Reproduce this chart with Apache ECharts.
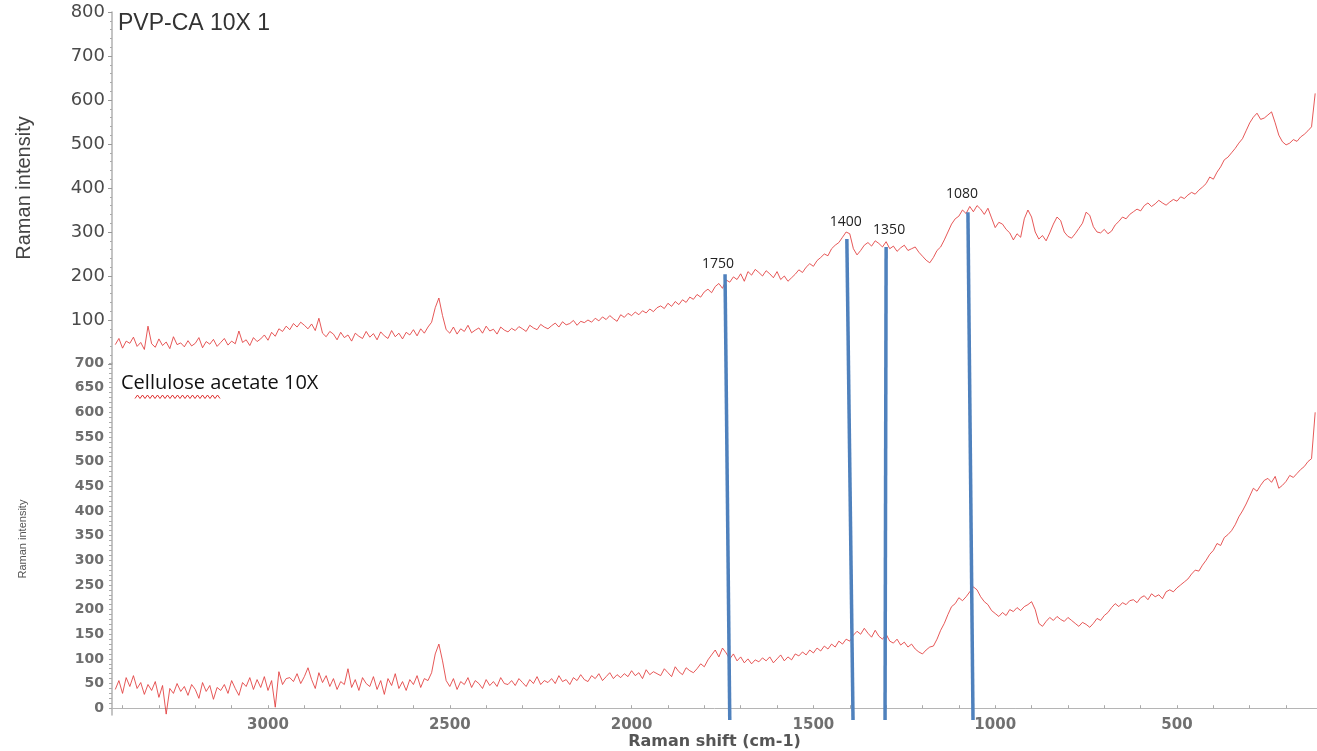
<!DOCTYPE html>
<html><head><meta charset="utf-8">
<script src="https://cdn.jsdelivr.net/npm/echarts@6/dist/echarts.min.js"></script>
<style>html,body{margin:0;padding:0;background:#fff;overflow:hidden}#chart{width:1317px;height:751px}</style>
</head><body><div id="chart"></div>
<script>
// Raman shift (cm-1), shared by both spectra
const ramanShift = [
3420,3410,3400,3390,3380,3370,3360,3350,3340,3330,
3320,3310,3300,3290,3280,3270,3260,3250,3240,3230,
3220,3210,3200,3190,3180,3170,3160,3150,3140,3130,
3120,3110,3100,3090,3080,3070,3060,3050,3040,3030,
3020,3010,3000,2990,2980,2970,2960,2950,2940,2930,
2920,2910,2900,2890,2880,2870,2860,2850,2840,2830,
2820,2810,2800,2790,2780,2770,2760,2750,2740,2730,
2720,2710,2700,2690,2680,2670,2660,2650,2640,2630,
2620,2610,2600,2590,2580,2570,2560,2550,2540,2530,
2520,2510,2500,2490,2480,2470,2460,2450,2440,2430,
2420,2410,2400,2390,2380,2370,2360,2350,2340,2330,
2320,2310,2300,2290,2280,2270,2260,2250,2240,2230,
2220,2210,2200,2190,2180,2170,2160,2150,2140,2130,
2120,2110,2100,2090,2080,2070,2060,2050,2040,2030,
2020,2010,2000,1990,1980,1970,1960,1950,1940,1930,
1920,1910,1900,1890,1880,1870,1860,1850,1840,1830,
1820,1810,1800,1790,1780,1770,1760,1750,1740,1730,
1720,1710,1700,1690,1680,1670,1660,1650,1640,1630,
1620,1610,1600,1590,1580,1570,1560,1550,1540,1530,
1520,1510,1500,1490,1480,1470,1460,1450,1440,1430,
1420,1410,1400,1390,1380,1370,1360,1350,1340,1330,
1320,1310,1300,1290,1280,1270,1260,1250,1240,1230,
1220,1210,1200,1190,1180,1170,1160,1150,1140,1130,
1120,1110,1100,1090,1080,1070,1060,1050,1040,1030,
1020,1010,1000,990,980,970,960,950,940,930,
920,910,900,890,880,870,860,850,840,830,
820,810,800,790,780,770,760,750,740,730,
720,710,700,690,680,670,660,650,640,630,
620,610,600,590,580,570,560,550,540,530,
520,510,500,490,480,470,460,450,440,430,
420,410,400,390,380,370,360,350,340,330,
320,310,300,290,280,270,260,250,240,230,
220,210,200,190,180,170,160,150,140,130,
120
];

// Top panel: PVP-CA 10X 1
const pvpCaIntensity = [
44,58,36,52,47,61,40,49,33,86,
46,38,57,42,50,35,62,44,48,39,
53,41,47,60,37,51,45,56,40,49,
58,43,52,46,75,49,55,42,60,51,
57,66,54,72,63,80,74,86,78,92,
84,95,88,80,91,76,104,70,62,74,
68,55,72,60,66,52,70,63,58,74,
61,69,55,73,64,58,76,62,70,57,
72,66,78,64,80,70,84,95,128,150,
110,78,70,84,68,80,74,88,71,77,
82,70,86,75,79,68,84,77,73,81,
76,85,80,74,88,82,78,90,84,80,
87,93,84,96,89,92,99,88,97,94,
100,95,104,98,107,101,110,103,97,112,
106,115,110,118,112,121,116,125,119,128,
132,126,138,131,142,135,146,140,152,147,
158,152,164,170,162,176,183,172,191,186,
198,192,205,188,210,202,215,208,200,212,
205,196,210,192,200,188,196,204,214,208,
220,228,222,235,242,250,246,262,270,276,
288,300,296,262,248,258,270,276,268,280,
274,266,278,262,268,256,264,270,258,262,
266,254,245,236,230,242,258,266,282,300,
318,330,336,350,342,358,346,360,352,340,
354,332,310,322,318,306,298,282,296,288,
330,350,334,300,284,292,280,298,318,334,
326,300,290,286,296,308,320,345,338,312,
300,298,306,296,302,316,324,334,330,340,
346,352,348,360,366,358,364,372,366,361,
368,374,370,380,376,384,390,386,395,402,
410,425,420,436,448,464,470,480,490,502,
512,530,548,561,570,556,559,566,573,548,
520,505,498,502,510,506,516,522,530,539,
615
];

// Bottom panel: Cellulose acetate 10X
const celluloseAcetateIntensity = [
38,56,30,62,44,66,40,52,28,48,
36,54,22,46,-12,40,30,50,34,44,
26,48,38,20,52,34,46,18,42,36,
48,30,56,40,26,52,44,62,38,58,
42,64,36,56,2,74,48,60,62,54,
70,50,64,82,58,40,72,52,66,44,
60,38,54,48,80,42,58,36,62,50,
44,64,38,56,28,60,46,70,40,54,
36,58,48,66,42,60,56,72,110,130,
96,56,44,60,38,54,48,62,42,56,
50,40,58,46,54,44,62,50,48,56,
46,60,52,44,58,50,64,48,56,52,
60,50,66,54,58,48,62,56,68,58,
54,66,60,70,56,64,72,60,68,62,
70,64,76,66,72,60,78,68,74,70,
66,80,72,64,84,74,68,82,76,72,
80,90,84,98,108,118,104,122,112,100,
110,96,104,92,100,90,98,94,102,96,
104,92,100,108,96,104,98,110,106,114,
108,118,112,122,116,126,120,130,124,136,
130,140,136,148,156,150,162,152,144,158,
146,140,150,136,132,140,128,134,124,130,
120,114,110,118,124,126,140,158,172,190,
206,212,224,218,226,236,246,240,226,216,
210,198,192,186,194,188,200,196,204,198,
206,210,216,200,172,166,176,184,178,186,
180,176,184,178,172,166,174,170,164,172,
182,178,188,194,204,212,206,214,210,218,
220,214,224,228,220,232,226,230,222,236,
240,236,244,250,256,262,272,280,278,290,
300,312,320,334,330,346,352,360,372,388,
400,414,430,446,440,452,462,466,458,470,
446,452,460,472,468,476,484,490,500,506,
600
];

// Tick labels
const xTickLabels = [3000, 2500, 2000, 1500, 1000, 500];
const topYTickLabels = [100, 200, 300, 400, 500, 600, 700, 800];
const bottomYTickLabels = [0, 50, 100, 150, 200, 250, 300, 350, 400, 450, 500, 550, 600, 650, 700];

// Marked peaks (blue lines): label, shift at the top end (on the PVP-CA trace), shift at the bottom end
const peakLabels = ['1750', '1400', '1350', '1080'];
const peakTopShift = [1743, 1408, 1300, 1075];
const peakTopIntensity = [204, 284, 266, 345];
const peakBottomShift = [1730, 1391, 1303, 1061];

// ---- axis ranges / styling ----
const X_MIN = 115, X_MAX = 3429;
const TOP_Y_MAX = 800;
const BOTTOM_Y_MIN = -14, BOTTOM_Y_MAX = 700;
const OVERLAY_Y_MIN = -809.09; // overlay grid in top-panel units, reaching the bottom x axis
const peakLabelOffset = [[-7, -3], [-1, -10], [3, -10], [-6, -11]];

const xMinorTicks = [];
for (let v = 200; v <= 3400; v += 100) xMinorTicks.push(v);
const bottomYMinorTicks = [];
for (let v = 0; v <= 700; v += 10) bottomYMinorTicks.push(v);

const plain = v => String(v);
const redLine = { color: '#e23b3b', width: 1, opacity: 0.85 };

const squiggle = [];
for (let x = 135, k = 0; x <= 222; x += 2.5, k++) squiggle.push([x, k % 2 ? 395 : 398.5]);

const chart = echarts.init(document.getElementById('chart'), null, { renderer: 'canvas' });

const peakSeries = peakLabels.map((lab, i) => ({
  type: 'line', xAxisIndex: 2, yAxisIndex: 2, z: 5,
  symbol: 'circle', symbolSize: 0, showSymbol: true,
  lineStyle: { color: '#4f81bd', width: 3.5 },
  itemStyle: { color: '#4f81bd' },
  emphasis: { disabled: true },
  data: [
    { value: [peakTopShift[i], peakTopIntensity[i]],
      label: { show: true, formatter: lab, position: 'top', distance: 0, offset: peakLabelOffset[i],
               fontSize: 14, fontFamily: 'Open Sans', color: '#222' } },
    { value: [peakBottomShift[i], OVERLAY_Y_MIN], label: { show: false } }
  ]
}));

chart.setOption({
  animation: false,
  backgroundColor: '#ffffff',
  title: [
    { text: 'PVP-CA 10X 1', left: 118, top: 12, padding: 0,
      textStyle: { fontSize: 23, fontWeight: 'normal', fontFamily: 'Liberation Sans', color: '#333' } },
    { text: 'Cellulose acetate 10X', left: 121, top: 373, padding: 0,
      textStyle: { fontSize: 20, fontWeight: 'normal', fontFamily: 'Open Sans', color: '#111' } }
  ],
  graphic: [
    { type: 'polyline', shape: { points: squiggle }, style: { stroke: '#e03030', lineWidth: 1, fill: null }, silent: true }
  ],
  grid: [
    { left: 112, right: 0, top: 12, height: 352 },
    { left: 112, right: 0, top: 363, bottom: 31 },
    { left: 112, right: 0, top: 12, bottom: 31 }
  ],
  xAxis: [
    { gridIndex: 0, type: 'value', min: X_MIN, max: X_MAX, inverse: true, show: false },
    { gridIndex: 1, type: 'value', min: X_MIN, max: X_MAX, inverse: true,
      axisLine: { show: true, lineStyle: { color: '#b5b5b5', width: 1 } },
      axisTick: { show: true, customValues: xMinorTicks, inside: true, length: 3, lineStyle: { color: '#aaa' } },
      axisLabel: { customValues: xTickLabels, formatter: plain, fontSize: 15, fontWeight: 'bold', fontFamily: 'DejaVu Sans', color: '#707070', margin: 3 },
      splitLine: { show: false },
      name: 'Raman shift (cm-1)', nameLocation: 'middle', nameGap: 15,
      nameTextStyle: { fontSize: 16, fontWeight: 'bold', fontFamily: 'DejaVu Sans', color: '#555', lineHeight: 16 } },
    { gridIndex: 2, type: 'value', min: X_MIN, max: X_MAX, inverse: true, show: false }
  ],
  yAxis: [
    { gridIndex: 0, type: 'value', min: 0, max: TOP_Y_MAX, interval: 100,
      axisLine: { show: true, lineStyle: { color: '#b0b0b0', width: 1.5 } },
      axisTick: { show: true, length: 4, lineStyle: { color: '#999' } },
      minorTick: { show: true, splitNumber: 5, length: 2, lineStyle: { color: '#aaa' } },
      axisLabel: { showMinLabel: false, formatter: plain, fontSize: 18, fontFamily: 'DejaVu Sans', color: '#4a4a4a', margin: 7 },
      splitLine: { show: false },
      name: 'Raman intensity', nameLocation: 'middle', nameGap: 78,
      nameTextStyle: { fontSize: 20, fontFamily: 'Liberation Sans', color: '#444' } },
    { gridIndex: 1, type: 'value', min: BOTTOM_Y_MIN, max: BOTTOM_Y_MAX,
      axisLine: { show: true, lineStyle: { color: '#b0b0b0', width: 1.5 } },
      axisTick: { show: true, customValues: bottomYMinorTicks, length: 3, lineStyle: { color: '#aaa' } },
      axisLabel: { customValues: bottomYTickLabels, formatter: plain, fontSize: 14, fontWeight: 'bold', fontFamily: 'DejaVu Sans', color: '#6e6e6e', margin: 8 },
      splitLine: { show: false },
      name: 'Raman intensity', nameLocation: 'middle', nameGap: 84,
      nameTextStyle: { fontSize: 11, fontFamily: 'Liberation Sans', color: '#555' } },
    { gridIndex: 2, type: 'value', min: OVERLAY_Y_MIN, max: TOP_Y_MAX, show: false }
  ],
  series: [
    { name: 'PVP-CA 10X 1', type: 'line', xAxisIndex: 0, yAxisIndex: 0, showSymbol: false, symbol: 'none',
      lineStyle: redLine, data: pvpCaIntensity.map((v, i) => [ramanShift[i], v]) },
    { name: 'Cellulose acetate 10X', type: 'line', xAxisIndex: 1, yAxisIndex: 1, showSymbol: false, symbol: 'none',
      lineStyle: redLine, data: celluloseAcetateIntensity.map((v, i) => [ramanShift[i], v]) }
  ].concat(peakSeries)
});
</script>
</body></html>
